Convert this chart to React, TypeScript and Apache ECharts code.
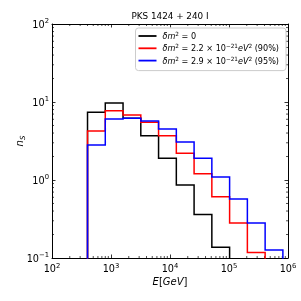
import React, { useEffect, useRef } from 'react';
import * as echarts from 'echarts';

// ---- data ----
const binEdges = [400, 800, 1600, 3200, 6400, 12800, 25600, 51200, 102400, 204800, 409600, 819200];
const nsNoOsc = [7.4, 9.7, 6.2, 3.7, 1.9, 0.86, 0.36, 0.137];
const ns90 = [4.25, 7.7, 6.8, 5.5, 3.7, 2.2, 1.2, 0.61, 0.28, 0.118];
const ns95 = [2.8, 6.05, 6.2, 5.7, 4.5, 3.07, 1.9, 1.09, 0.57, 0.28, 0.127];
const seriesNames = ['dm0', 'dm90', 'dm95'];
const seriesColors = ['#000000', '#ff0000', '#0000ff'];
const legendLabels: Record<string, string> = {
  dm0: '{i|δm}{sup|2}{t| = 0}',
  dm90: '{i|δm}{sup|2}{t| = 2.2 × 10}{sup|−21}{i|eV}{sup|2}{t| (90%)}',
  dm95: '{i|δm}{sup|2}{t| = 2.9 × 10}{sup|−21}{i|eV}{sup|2}{t| (95%)}',
};
const titleText = 'PKS 1424 + 240 I';
const X_MIN = 100, X_MAX = 1e6, Y_MIN = 0.1, Y_MAX = 100;
const xDecades = [2, 3, 4, 5];
const yDecades = [-1, 0, 1];

const FONT = 'DejaVu Sans';
const FLOOR = 1e-3;

function stepPoints(vals: number[]) {
  const pts: number[][] = [[binEdges[0], FLOOR]];
  vals.forEach((v, i) => {
    pts.push([binEdges[i], v]);
    pts.push([binEdges[i + 1], v]);
  });
  pts.push([binEdges[vals.length], FLOOR]);
  return pts;
}

const minorX: number[][] = [];
xDecades.forEach((d) => { for (let k = 2; k <= 9; k++) minorX.push([k * Math.pow(10, d), Y_MIN]); });
const minorY: number[][] = [];
yDecades.forEach((d) => { for (let k = 2; k <= 9; k++) minorY.push([X_MIN, k * Math.pow(10, d)]); });

const expLabel = (v: number) => {
  const e = Math.round(Math.log10(v));
  return `{b|10}{s|${e < 0 ? '−' + -e : e}}`;
};
const labelRich = {
  b: { fontFamily: FONT, fontSize: 9.7, color: '#000', lineHeight: 13 },
  s: { fontFamily: FONT, fontSize: 6.8, color: '#000', verticalAlign: 'top', lineHeight: 8 },
};

export default function App() {
  const ref = useRef<HTMLDivElement>(null);
  useEffect(() => {
    if (!ref.current) return;
    const chart = echarts.init(ref.current, undefined, { renderer: 'svg' });
    const axisCommon = {
      type: 'log' as const,
      logBase: 10,
      axisLine: { show: true, onZero: false, lineStyle: { color: '#000', width: 1 } },
      axisTick: { show: true, inside: true, length: 3.5, lineStyle: { color: '#000', width: 0.8 } },
      splitLine: { show: false },
      minorTick: { show: false },
    };
    const dataSeries = [nsNoOsc, ns90, ns95].map((vals, i) => ({
      type: 'line',
      name: seriesNames[i],
      data: stepPoints(vals),
      symbol: 'none',
      showSymbol: false,
      clip: true,
      lineStyle: { color: seriesColors[i], width: 1.5, join: 'miter' },
      itemStyle: { color: seriesColors[i] },
      xAxisIndex: 0,
      yAxisIndex: 0,
      z: 3 + i,
    }));
    const tickStyle = { stroke: '#000', lineWidth: 0.7 };
    chart.setOption({
      animation: false,
      grid: { left: 52, right: 13, top: 24, bottom: 43, containLabel: false, outerBoundsMode: 'none' },
      graphic: [
        {
          type: 'text', x: 170, y: 16,
          style: { text: titleText, align: 'center', verticalAlign: 'middle', fontFamily: FONT, fontSize: 8.8, fill: '#000' },
        },
      ],
      legend: {
        show: true,
        data: seriesNames,
        orient: 'vertical',
        right: 15,
        top: 28,
        icon: 'rect',
        itemWidth: 18,
        itemHeight: 1.8,
        itemGap: 3.3,
        padding: [3, 7, 6, 3],
        borderColor: '#cccccc',
        borderWidth: 1,
        borderRadius: 3,
        backgroundColor: 'rgba(255,255,255,0.8)',
        formatter: (name: string) => legendLabels[name],
        textStyle: {
          fontFamily: FONT,
          fontSize: 8.1,
          color: '#000',
          padding: [0, 0, 0, 1],
          rich: {
            i: { fontFamily: FONT, fontSize: 8.1, fontStyle: 'italic', color: '#000', lineHeight: 10 },
            t: { fontFamily: FONT, fontSize: 8.1, color: '#000', lineHeight: 10 },
            sup: { fontFamily: FONT, fontSize: 5.7, color: '#000', verticalAlign: 'top', lineHeight: 6 },
          },
        },
      },
      xAxis: [
        {
          ...axisCommon,
          min: X_MIN, max: X_MAX, position: 'bottom',
          axisLabel: { show: true, margin: 4, formatter: expLabel, rich: labelRich },
          name: '{i|E}{t|[}{i|GeV}{t|]}',
          nameLocation: 'middle',
          nameGap: 18,
          nameMoveOverlap: false,
          nameTextStyle: {
            rich: {
              i: { fontFamily: FONT, fontSize: 10, fontStyle: 'italic', color: '#000' },
              t: { fontFamily: FONT, fontSize: 10, color: '#000' },
            },
          },
        },
        { ...axisCommon, min: X_MIN, max: X_MAX, position: 'top', axisLabel: { show: false } },
      ],
      yAxis: [
        {
          ...axisCommon,
          min: Y_MIN, max: Y_MAX, position: 'left',
          axisLabel: { show: true, margin: 3, formatter: expLabel, rich: labelRich },
          name: '{i|n}{sub|S}',
          nameLocation: 'middle',
          nameGap: 26,
          nameMoveOverlap: false,
          nameRotate: 90,
          nameTextStyle: {
            rich: {
              i: { fontFamily: FONT, fontSize: 10, fontStyle: 'italic', color: '#000', lineHeight: 14 },
              sub: { fontFamily: FONT, fontSize: 7, fontStyle: 'italic', color: '#000', verticalAlign: 'bottom', lineHeight: 8 },
            },
          },
        },
        { ...axisCommon, min: Y_MIN, max: Y_MAX, position: 'right', axisLabel: { show: false } },
      ],
      series: [
        ...dataSeries,
        {
          type: 'custom',
          name: 'minorX',
          silent: true,
          clip: false,
          xAxisIndex: 0,
          yAxisIndex: 0,
          data: minorX,
          encode: { x: 0, y: 1 },
          renderItem: (_p: any, api: any) => {
            const v = api.value(0);
            const b = api.coord([v, Y_MIN]);
            const t = api.coord([v, Y_MAX]);
            return {
              type: 'group',
              children: [
                { type: 'line', shape: { x1: b[0], y1: b[1], x2: b[0], y2: b[1] - 2 }, style: tickStyle },
                { type: 'line', shape: { x1: t[0], y1: t[1], x2: t[0], y2: t[1] + 2 }, style: tickStyle },
              ],
            };
          },
        },
        {
          type: 'custom',
          name: 'minorY',
          silent: true,
          clip: false,
          xAxisIndex: 0,
          yAxisIndex: 0,
          data: minorY,
          encode: { x: 0, y: 1 },
          renderItem: (_p: any, api: any) => {
            const v = api.value(1);
            const l = api.coord([X_MIN, v]);
            const r = api.coord([X_MAX, v]);
            return {
              type: 'group',
              children: [
                { type: 'line', shape: { x1: l[0], y1: l[1], x2: l[0] + 2, y2: l[1] }, style: tickStyle },
                { type: 'line', shape: { x1: r[0], y1: r[1], x2: r[0] - 2, y2: r[1] }, style: tickStyle },
              ],
            };
          },
        },
      ],
    });
    return () => chart.dispose();
  }, []);
  return <div ref={ref} style={{ position: 'fixed', left: 0, top: 0, width: 301, height: 301 }} />;
}
